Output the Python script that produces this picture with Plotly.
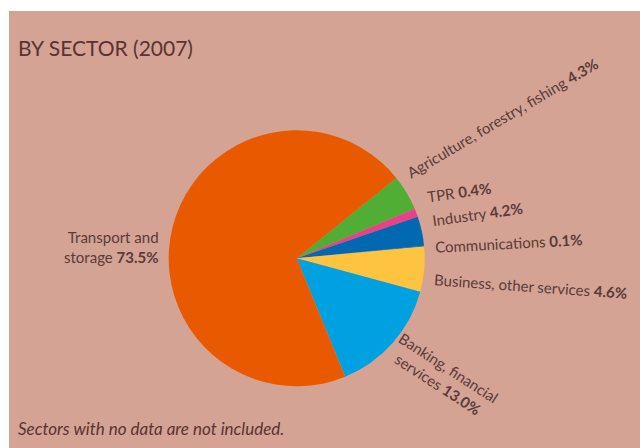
import plotly.graph_objects as go

sectors = ["Agriculture, forestry, fishing", "TPR", "Industry", "Communications",
           "Business, other services", "Banking, financial services", "Transport and storage"]
# slice shares as drawn in the picture
shares = [4.47, 1.06, 3.7, 0.1, 5.7, 14.6, 70.4]
# percentages printed on the labels
label_pct = ["4.3%", "0.4%", "4.2%", "0.1%", "4.6%", "13.0%", "73.5%"]
colors = ["#4fae33", "#e8418a", "#0069b1", "#0069b1", "#fec43f", "#00a1e1", "#e95a00"]

W, H = 640, 448
BG = "#d4a393"
TXT = "#5a3b39"

fig = go.Figure()
cx, cy, r = 296.7, 258.3, 128
fig.add_trace(go.Pie(
    labels=sectors, values=shares, sort=False, direction="clockwise",
    rotation=51.1, marker=dict(colors=colors, line=dict(width=0)),
    textinfo="none", hoverinfo="label+percent", showlegend=False,
    domain=dict(x=[(cx - r) / W, (cx + r) / W], y=[(H - cy - r) / H, (H - cy + r) / H]),
))

def px(x):
    return x / W

def py(y):
    return 1 - y / H

font = dict(family="Lato, 'Open Sans', sans-serif", size=15, color=TXT)

labels = [
    (f"{sectors[0]} <b>{label_pct[0]}</b>", 502, 118, -30.6, "center"),
    (f"{sectors[1]} <b>{label_pct[1]}</b>", 459, 192, -8, "center"),
    (f"{sectors[2]} <b>{label_pct[2]}</b>", 477, 214, -8, "center"),
    (f"{sectors[3]} <b>{label_pct[3]}</b>", 509, 243, -3, "center"),
    (f"{sectors[4]} <b>{label_pct[4]}</b>", 530, 286, 4, "center"),
    (f"Banking, financial<br>services <b>{label_pct[5]}</b>", 443, 376, 33, "center"),
]
for text, x, y, ang, al in labels:
    fig.add_annotation(text=text, x=px(x), y=py(y), xref="paper", yref="paper",
                       xanchor="center", yanchor="middle", textangle=ang,
                       showarrow=False, font=font, align=al)

fig.add_annotation(text=f"Transport and<br>storage <b>{label_pct[6]}</b>", x=px(161), y=py(247),
                   xref="paper", yref="paper", xanchor="right", yanchor="middle",
                   showarrow=False, font=font, align="right")

fig.add_annotation(text="BY SECTOR (2007)", x=px(16), y=py(48), xref="paper", yref="paper",
                   xanchor="left", yanchor="middle", showarrow=False,
                   font=dict(family="Lato, sans-serif", size=21, color="#5b3232"))

fig.add_annotation(text="<i>Sectors with no data are not included.</i>", x=px(16), y=py(428),
                   xref="paper", yref="paper", xanchor="left", yanchor="middle", showarrow=False,
                   font=dict(family="Lato, sans-serif", size=17, color="#5b3232"))

fig.update_layout(
    width=W, height=H, margin=dict(l=0, r=0, t=0, b=0),
    paper_bgcolor="white", plot_bgcolor="white",
    shapes=[dict(type="rect", xref="paper", yref="paper", x0=px(9), x1=1, y0=0, y1=py(11),
                 fillcolor=BG, line=dict(width=0), layer="below")],
)

fig.write_html("out.html")
